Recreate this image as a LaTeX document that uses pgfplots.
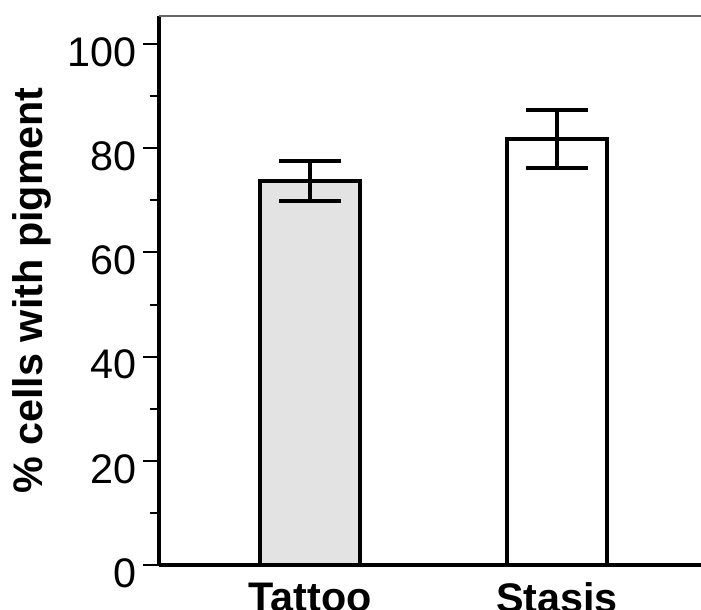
\documentclass[border=0pt]{standalone}
\usepackage{pgfplots}
\pgfplotsset{compat=1.18}
\usepackage{fontspec}
\setmainfont{Liberation Sans}
\begin{document}
\begin{tikzpicture}[x=1pt,y=1pt]
\path[use as bounding box] (-119.25pt,-33.75pt) rectangle (406.5pt,423.75pt);
\begin{axis}[
  at={(0,0)}, anchor=origin,
  scale only axis,
  width=406.5pt, height=411.75pt,
  xmin=0.389, xmax=2.583,
  ymin=0, ymax=105.4,
  axis lines=left,
  axis line style={-},
  x axis line style={line width=3.2pt, black},
  y axis line style={line width=3.2pt, black},
  every outer x axis line/.append style={line width=3.2pt},
  every outer y axis line/.append style={line width=3.2pt},
  xtick={1,2},
  xticklabels={\textbf{Tattoo},\textbf{Stasis}},
  x tick style={draw=none},
  ytick={0,20,40,60,80,100},
  minor ytick={10,30,50,70,90},
  y tick style={line width=1.5pt, black},
  tick align=outside,
  major tick length=12pt,
  minor tick length=7pt,
  y tick label style={font=\fontsize{31}{36}\selectfont, xshift=-1pt, yshift=-6pt},
  x tick label style={font=\fontsize{31}{36}\selectfont, yshift=2pt},
  /pgf/number format/assume math mode=true,
  ylabel={\textbf{\% cells with pigment}},
  ylabel style={font=\fontsize{31}{36}\selectfont, yshift=6pt},
  clip=false,
  after end axis/.code={\draw[gray!80!black, line width=1.5pt] (rel axis cs:0,1) -- (rel axis cs:1,1);},
]
\addplot[
  ybar, bar width=0.405, fill=gray!22, draw=black, line width=3pt,
  error bars/.cd, y dir=both, y explicit,
  error bar style={line width=3pt, black},
  error mark options={rotate=90, mark size=23pt, line width=3pt, black},
] coordinates {
  (1,73.7) +- (0,3.8)
};
\addplot[
  ybar, bar width=0.405, fill=white, draw=black, line width=3pt,
  error bars/.cd, y dir=both, y explicit,
  error bar style={line width=3pt, black},
  error mark options={rotate=90, mark size=23pt, line width=3pt, black},
] coordinates {
  (2,81.8) +- (0,5.5)
};
\end{axis}
\end{tikzpicture}
\end{document}
